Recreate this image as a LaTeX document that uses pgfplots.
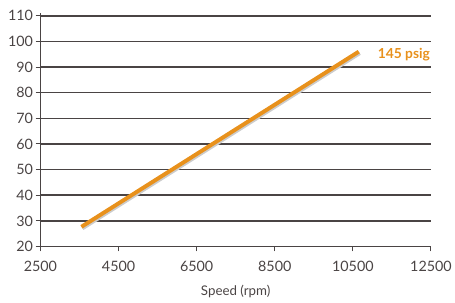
\documentclass[border=0pt]{standalone}
\usepackage{pgfplots}
\pgfplotsset{compat=1.18}
\usepackage{fontspec}
\setmainfont{Lato}
\definecolor{linec}{HTML}{E8911C}
\definecolor{gridc}{HTML}{4A4444}
\begin{document}
\begin{tikzpicture}
\begin{axis}[
  scale only axis, width=396pt, height=236.6pt,
  xmin=2500, xmax=12500, ymin=20, ymax=111,
  xtick={2500,4500,6500,8500,10500,12500},
  ytick={20,30,...,110},
  scaled ticks=false,
  axis x line*=bottom, axis y line*=left,
  axis line style={gridc, line width=1.3pt, -},
  tick style={gridc, line width=1pt},
  tick align=outside, major tick length=5pt,
  ymajorgrids, grid style={gridc, line width=1.6pt},
  /pgf/number format/assume math mode=true,
  /pgf/number format/set thousands separator={},
  ticklabel style={font=\fontsize{14.5}{16}\selectfont, text=gridc},
  yticklabel style={xshift=1pt},
  xticklabel style={yshift=-6pt},
  xlabel={Speed (rpm)}, xlabel style={font=\fontsize{13.5}{16}\selectfont, text=gridc, yshift=-7pt},
  clip=false,
]
\addplot[gray!40, line width=4pt, shift={(1pt,-1.5pt)}] coordinates {(3550,27.7) (10650,96)};
\addplot[linec, line width=4pt] coordinates {(3550,27.7) (10650,96)}
  node[pos=1, anchor=west, xshift=14pt, yshift=-3pt, font=\bfseries\fontsize{14}{16}\selectfont, text=linec] {145 psig};
\end{axis}
\path ([xshift=-41pt,yshift=-57pt]current axis.south west) rectangle ([xshift=21pt,yshift=13.4pt]current axis.north east);
\end{tikzpicture}
\end{document}
